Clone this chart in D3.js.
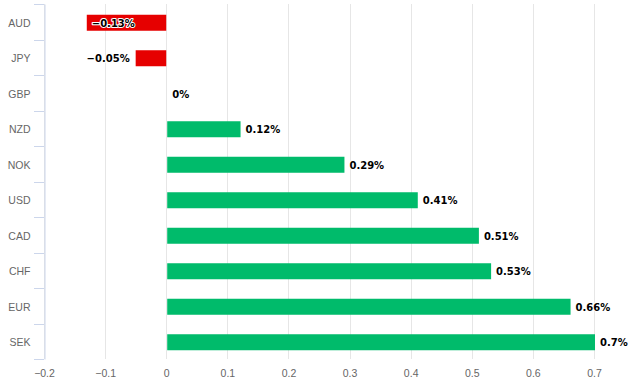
<!DOCTYPE html>
<html>
<head>
<meta charset="utf-8">
<script src="https://cdn.jsdelivr.net/npm/d3@7"></script>
<style>
body { margin: 0; background: #fff; }
svg { display: block; font-family: "DejaVu Sans", sans-serif; }
</style>
</head>
<body>
<script>
const w = 630;
const h = 388;

const currencies = ["AUD", "JPY", "GBP", "NZD", "NOK", "USD", "CAD", "CHF", "EUR", "SEK"];
const changes = [-0.13, -0.05, 0, 0.12, 0.29, 0.41, 0.51, 0.53, 0.66, 0.7];
const xTicks = [-0.2, -0.1, 0, 0.1, 0.2, 0.3, 0.4, 0.5, 0.6, 0.7];

const plotLeft = 44, plotRight = 594, plotTop = 4, plotBottom = 359;

const svg = d3.select("body")
    .append("svg")
    .attr("width", w)
    .attr("height", h);

const xScale = d3.scaleLinear()
    .domain([-0.2, 0.7])
    .range([plotLeft, plotRight]);

const yScale = d3.scaleBand()
    .domain(currencies)
    .range([plotTop, plotBottom]);

const barH = 16;

// grid
svg.append("g")
    .selectAll("line")
    .data(xTicks)
    .enter()
    .append("line")
    .attr("x1", d => Math.round(xScale(d)) + 0.5)
    .attr("x2", d => Math.round(xScale(d)) + 0.5)
    .attr("y1", plotTop)
    .attr("y2", plotBottom)
    .attr("stroke", "#e6e6e6");

// category axis
const yAxis = d3.axisLeft(yScale)
    .tickSizeOuter(0)
    .tickSize(0)
    .tickPadding(14);

const yG = svg.append("g")
    .attr("transform", "translate(" + (plotLeft + 0.5) + ",0)")
    .call(yAxis);
yG.select(".domain").attr("stroke", "#ccd6eb");
yG.selectAll("text")
    .attr("fill", "#666")
    .attr("y", 1.5)
    .style("font-size", "10.5px");

// tick marks between categories
const bounds = currencies.map(c => yScale(c)).concat([plotBottom]);
svg.append("g")
    .selectAll("line")
    .data(bounds)
    .enter()
    .append("line")
    .attr("x1", plotLeft - 10)
    .attr("x2", plotLeft)
    .attr("y1", d => Math.round(d) + 0.5)
    .attr("y2", d => Math.round(d) + 0.5)
    .attr("stroke", "#ccd6eb");

// value axis
const xAxis = d3.axisBottom(xScale)
    .tickValues(xTicks)
    .tickSize(0)
    .tickPadding(0)
    .tickFormat(d => d3.format("")(d));

const xG = svg.append("g")
    .attr("transform", "translate(0," + 370 + ")")
    .call(xAxis);
xG.select(".domain").remove();
xG.selectAll("text").attr("fill", "#666").style("font-size", "10.5px");

// bars
svg.selectAll("rect.bar")
    .data(changes)
    .enter()
    .append("rect")
    .attr("class", "bar")
    .attr("x", d => d < 0 ? xScale(d) : xScale(0) + 1)
    .attr("y", (d, i) => yScale(currencies[i]) + yScale.bandwidth() / 2 - barH / 2 + 1)
    .attr("width", d => Math.abs(xScale(d) - xScale(0)))
    .attr("height", barH)
    .attr("fill", d => d < 0 ? "#e60000" : "#00bb6b");

// labels
const fmt = d => (d < 0 ? "\u2212" + Math.abs(d) : d) + "%";
const insideBar = d => d < 0 && xScale(d) - 46 < plotLeft;
svg.selectAll("text.lbl")
    .data(changes)
    .enter()
    .append("text")
    .attr("class", "lbl")
    .attr("x", d => d >= 0 ? xScale(d) + 6 : (insideBar(d) ? xScale(d) + 5 : xScale(d) - 6))
    .attr("text-anchor", d => d >= 0 || insideBar(d) ? "start" : "end")
    .attr("y", (d, i) => yScale(currencies[i]) + yScale.bandwidth() / 2 + 5)
    .attr("fill", "#000")
    .attr("stroke", "#fff")
    .attr("stroke-width", 2)
    .attr("paint-order", "stroke")
    .attr("stroke-linejoin", "round")
    .style("font-size", "10px")
    .style("font-weight", "bold")
    .text(fmt);
</script>
</body>
</html>
